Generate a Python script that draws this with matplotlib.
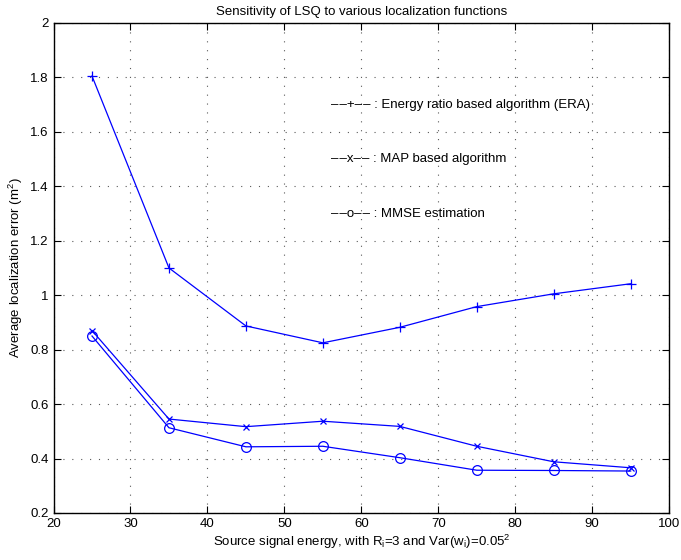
import numpy as np
import matplotlib
matplotlib.use('Agg')
import matplotlib.pyplot as plt

plt.rcParams['font.family'] = ['Liberation Sans', 'DejaVu Sans']
plt.rcParams['mathtext.fontset'] = 'custom'
plt.rcParams['mathtext.rm'] = 'Liberation Sans'
plt.rcParams['mathtext.it'] = 'Liberation Sans'

energy = [25, 35, 45, 55, 65, 75, 85, 95]
era = [1.805, 1.10, 0.887, 0.825, 0.882, 0.958, 1.005, 1.042]
map_alg = [0.87, 0.545, 0.517, 0.537, 0.518, 0.445, 0.388, 0.366]
mmse = [0.85, 0.513, 0.443, 0.445, 0.403, 0.357, 0.356, 0.354]

d = '\u2013\u200a\u2013'
labels = [d + '+' + d + ' : Energy ratio based algorithm (ERA)',
          d + 'x' + d + ' : MAP based algorithm',
          d + 'o' + d + ' : MMSE estimation']
label_y = [1.7, 1.5, 1.3]

fig = plt.figure(figsize=(6.81, 5.6), dpi=100)
ax = fig.add_axes([0.0786, 0.084, 0.904, 0.875])

blue = (0, 0, 1)
ax.plot(energy, era, '-', marker='+', color=blue, lw=0.9, ms=7, mew=0.9)
ax.plot(energy, map_alg, '-', marker='x', color=blue, lw=0.9, ms=5, mew=0.9)
ax.plot(energy, mmse, '-', marker='o', color=blue, lw=0.9, ms=7, mew=0.9, mfc='none')

for lab, yy in zip(labels, label_y):
    ax.text(56, yy, lab, fontsize=9.5, va='center', ha='left')

ax.set_xlim(20, 100)
ax.set_ylim(0.2, 2)
ax.set_xticks(np.arange(20, 101, 10))
ax.set_yticks(np.arange(0.2, 2.01, 0.2))
ax.set_yticklabels(['0.2', '0.4', '0.6', '0.8', '1', '1.2', '1.4', '1.6', '1.8', '2'])
ax.grid(True, linestyle=(0, (1, 7)), color='0.35', lw=0.8)
ax.tick_params(direction='in', top=True, right=True, labelsize=9.5, length=5, width=0.8)
for s in ax.spines.values():
    s.set_linewidth(1.0)

ax.set_title('Sensitivity of LSQ to various localization functions', fontsize=9.5, pad=6)
ax.set_xlabel('Source signal energy, with R$_i$=3 and Var(w$_i$)=0.05$^2$', fontsize=9.5, labelpad=2)
ax.set_ylabel('Average localization error (m$^2$)', fontsize=9.5, labelpad=4)

fig.savefig('out.png', dpi=100)
